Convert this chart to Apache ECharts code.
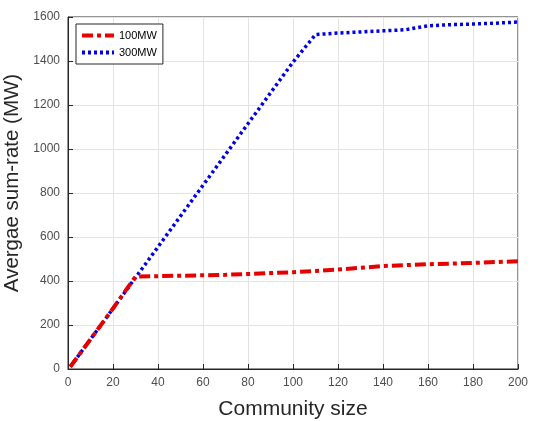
<!DOCTYPE html>
<html>
<head>
<meta charset="utf-8">
<script src="https://cdn.jsdelivr.net/npm/echarts@6/dist/echarts.min.js"></script>
<style>
  html, body { margin: 0; padding: 0; background: #fff; }
  #chart { width: 533px; height: 421px; }
</style>
</head>
<body>
<div id="chart"></div>
<script>
// community sizes (x)
var sizes = [1, 10, 20, 30, 40, 50, 60, 70, 80, 90, 100, 110, 120, 130, 140, 150, 160, 170, 180, 190, 200];
// average sum-rate, 100MW case
var rate100 = [10, 135, 275, 420, 422, 424, 426, 428, 432, 436, 440, 446, 452, 460, 468, 472, 476, 479, 482, 486, 490];
// average sum-rate, 300MW case
var rate300 = [10, 135, 275, 415, 555, 695, 835, 975, 1115, 1255, 1395, 1520, 1527, 1532, 1537, 1542, 1560, 1565, 1568, 1572, 1577];

function pairs(xs, ys) {
  return xs.map(function (x, i) { return [x, ys[i]]; });
}

var chart = echarts.init(document.getElementById('chart'));
var font = 'Arial, "Liberation Sans", sans-serif';

var option = {
  animation: false,
  grid: {
    left: 68, right: 15, top: 17, bottom: 52,
    outerBoundsMode: 'none', containLabel: false,
    show: true, borderColor: '#262626', borderWidth: 1
  },
  legend: {
    left: 76, top: 24,
    orient: 'vertical',
    itemWidth: 32, itemHeight: 10, itemGap: 6,
    padding: [6, 6, 6, 4],
    borderColor: '#262626', borderWidth: 1,
    backgroundColor: '#fff',
    itemStyle: { opacity: 0 },
    lineStyle: { width: 4 },
    textStyle: { fontFamily: font, fontSize: 11, color: '#000' },
    data: ['100MW', '300MW']
  },
  xAxis: {
    type: 'value', min: 0, max: 200, interval: 20,
    name: 'Community size', nameLocation: 'middle', nameGap: 30,
    nameTextStyle: { fontFamily: font, fontSize: 21, color: '#262626' },
    axisLine: { lineStyle: { color: '#262626' } },
    axisTick: { inside: true, length: 5, lineStyle: { color: '#262626' } },
    axisLabel: { fontFamily: font, fontSize: 12, color: '#4d4d4d', margin: 8 },
    splitLine: { show: true, lineStyle: { color: '#e3e3e3' } }
  },
  yAxis: {
    type: 'value', min: 0, max: 1600, interval: 200,
    name: 'Avergae sum-rate (MW)', nameLocation: 'middle', nameGap: 27,
    nameTextStyle: { fontFamily: font, fontSize: 20.5, color: '#262626', padding: [0, 0, 0, 20] },
    axisLine: { show: true, lineStyle: { color: '#262626' } },
    axisTick: { show: true, inside: true, length: 5, lineStyle: { color: '#262626' } },
    axisLabel: {
      fontFamily: font, fontSize: 12, color: '#4d4d4d', margin: 8,
      formatter: function (v) { return String(v); }
    },
    splitLine: { show: true, lineStyle: { color: '#e3e3e3' } }
  },
  series: [
    {
      name: '300MW', type: 'line', showSymbol: false, symbol: 'none',
      data: pairs(sizes, rate300),
      itemStyle: { color: '#0000e6' },
      lineStyle: { color: '#0000e6', width: 3.5, type: [3, 3] },
      z: 2
    },
    {
      name: '100MW', type: 'line', showSymbol: false, symbol: 'none',
      data: pairs(sizes, rate100),
      itemStyle: { color: '#e60000' },
      lineStyle: { color: '#e60000', width: 4, type: [11, 4, 4, 4] },
      z: 3
    }
  ]
};

chart.setOption(option);
</script>
</body>
</html>
